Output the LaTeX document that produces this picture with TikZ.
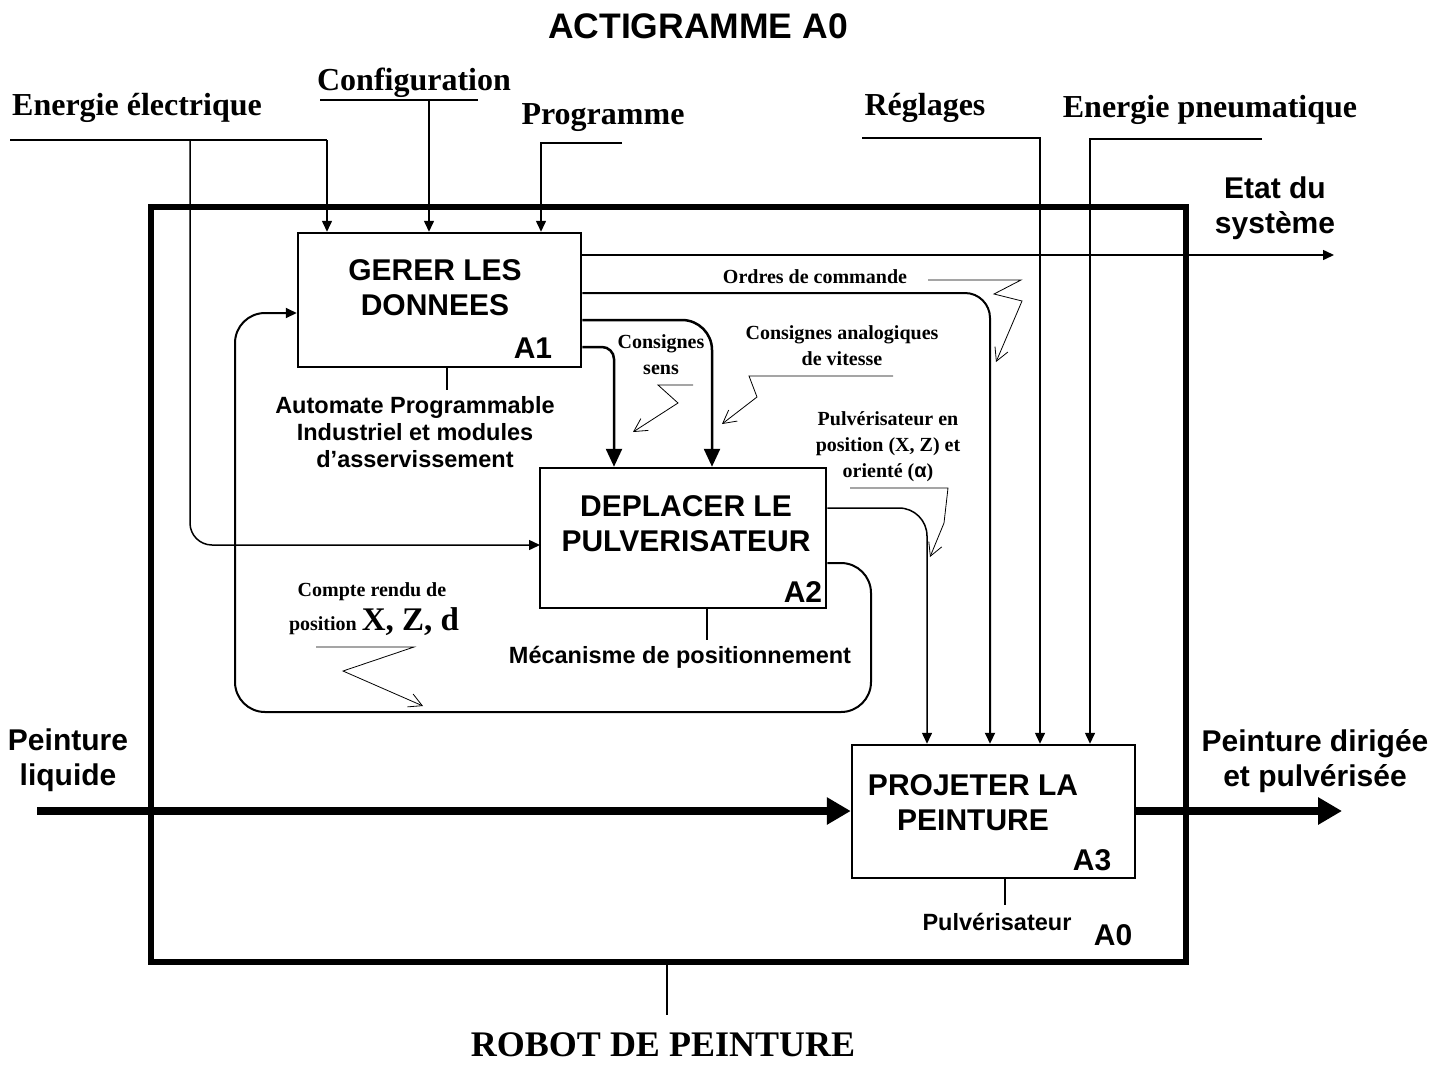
\documentclass[tikz,border=0pt]{standalone}
\usepackage{fontspec}
\setmainfont{Liberation Serif}
\newfontfamily\helv{Liberation Sans}
\usetikzlibrary{arrows.meta}

\begin{document}
\begin{tikzpicture}[x=1pt,y=-1pt]
\tikzstyle{every node}=[inner sep=0pt, align=center];
\tikzstyle{fct}=[draw, line width=2.5pt];
\tikzstyle{titre}=[font=\helv\bfseries\fontsize{30}{35}\selectfont];
\tikzstyle{meca}=[font=\helv\bfseries\fontsize{23.5}{27}\selectfont];
\tikzstyle{ext}=[font=\bfseries\fontsize{32}{38}\selectfont];
\tikzstyle{info}=[font=\bfseries\fontsize{20}{26}\selectfont];
\tikzstyle{fin}=[line width=1.5pt];
\tikzstyle{fl}=[fin, -{Triangle[length=11pt,width=10pt]}];
\tikzstyle{cmd}=[line width=2.5pt, -{Triangle[length=18pt,width=16pt]}];
\tikzstyle{gros}=[line width=8pt, -{Triangle[length=24pt,width=26pt]}];
\tikzstyle{eclair}=[line width=0.8pt, -{Straight Barb[length=13pt,width=14pt]}];

\useasboundingbox (0,0) rectangle (1445,1066);

\node[font=\helv\bfseries\fontsize{35.5}{40}\selectfont] (titre) at (698,26) {ACTIGRAMME A0};

% boite A0
\node[draw, line width=6pt, minimum width=1035pt, minimum height=755pt] (a0) at (668.5,584.5) {};
\node[titre] (n0) at (1113,935) {A0};
\coordinate (m0) at (667,1015);
\draw[fin] (m0 |- a0.south) -- (m0);
\node[font=\bfseries\fontsize{36}{42}\selectfont] (robot) at (663,1045) {ROBOT DE PEINTURE};

% fonctions
\node[fct, minimum width=283pt, minimum height=134pt] (a1) at (439.5,300) {};
\node[titre] (t1) at (435,287.5) {GERER LES\\DONNEES};
\node[titre] (n1) at (533,348) {A1};
\node[fct, minimum width=286pt, minimum height=140pt] (a2) at (683,538) {};
\node[titre] (t2) at (686,524) {DEPLACER LE\\PULVERISATEUR};
\node[titre] (n2) at (803,592) {A2};
\node[fct, minimum width=283pt, minimum height=133pt] (a3) at (993.5,811.5) {};
\node[titre] (t3) at (973,803) {PROJETER LA\\PEINTURE};
\node[titre] (n3) at (1092,860) {A3};

% supports
\coordinate (m1) at (447,390);
\draw[fin] (m1 |- a1.south) -- (m1);
\node[meca] (s1) at (415,432) {Automate Programmable\\Industriel et modules\\d’asservissement};
\coordinate (m2) at (707,640);
\draw[fin] (m2 |- a2.south) -- (m2);
\node[meca] (s2) at (680,657) {Mécanisme de positionnement};
\coordinate (m3) at (1005,905);
\draw[fin] (m3 |- a3.south) -- (m3);
\node[meca] (s3) at (997,922) {Pulvérisateur};

% entrees du haut
\node[ext] (elec) at (137,108) {Energie électrique};
\coordinate (elec0) at (10,140);
\coordinate (elec1) at (327,140);
\coordinate (elec2) at (190,140);
\coordinate (elec3) at (540,545);
\draw[fin] (elec0) -- (elec1);
\draw[fl] (elec1) -- (elec1 |- a1.north);
\draw[fl, rounded corners=22pt] (elec2) |- (elec3);

\node[ext] (conf) at (414,83) {Configuration};
\coordinate (conf0) at (320,100);
\coordinate (conf1) at (478,100);
\coordinate (conf2) at (429,100);
\draw[fin] (conf0) -- (conf1);
\draw[fl] (conf2) -- (conf2 |- a1.north);

\node[ext] (prog) at (603,118) {Programme};
\coordinate (prog0) at (622,143);
\coordinate (prog1) at (541,143);
\draw[fl] (prog0) -- (prog1) -- (prog1 |- a1.north);

\node[ext] (regl) at (925,108) {Réglages};
\coordinate (regl0) at (862,138);
\coordinate (regl1) at (1040,138);
\draw[fl] (regl0) -- (regl1) -- (regl1 |- a3.north);

\node[ext] (pneu) at (1210,110) {Energie pneumatique};
\coordinate (pneu0) at (1262,139);
\coordinate (pneu1) at (1090,139);
\draw[fl] (pneu0) -- (pneu1) -- (pneu1 |- a3.north);

% sorties de A1
\coordinate (etat) at (1334,255);
\draw[fl] (a1.east |- etat) -- (etat);
\node[titre] (etatl) at (1275,208) {Etat du\\système};

\coordinate (ord) at (990,293);
\draw[fl, line width=2pt, rounded corners=25pt] (a1.east |- ord) -| (ord |- a3.north);
\node[info] (ordl) at (815,277) {Ordres de commande};
\draw[eclair] (928,280) -- (1021,280) -- (994,294) -- (1022,301) -- (996,362);

\coordinate (cav) at (712,320);
\draw[cmd, rounded corners=30pt] (a1.east |- cav) -| (cav |- a2.north);
\node[info] (cavl) at (842,346) {Consignes analogiques\\de vitesse};
\draw[eclair] (893,376) -- (749,376) -- (757,397) -- (722,424);

\coordinate (cs) at (614,347);
\draw[cmd, rounded corners=12pt] (a1.east |- cs) -| (cs |- a2.north);
\node[info] (csl) at (661,355) {Consignes\\sens};
\draw[eclair] (693,385) -- (658,385) -- (678,403) -- (633,432);

% sorties de A2
\coordinate (pos) at (927,508);
\draw[fl, rounded corners=28pt] (a2.east |- pos) -| (pos |- a3.north);
\node[info] (posl) at (888,447) {Pulvérisateur en\\position (X, Z) et\\orienté ({\helv α})};
\draw[eclair] (850,488) -- (948,488) -- (944,523) -- (930,557);

\coordinate (cr) at (871,563);
\coordinate (cb) at (235,712);
\coordinate (ch) at (235,313);
\draw[fl, line width=2pt, rounded corners=30pt] (a2.east |- cr) -- (cr) -- (cr |- cb) -- (cb) -- (ch) -- (a1.west |- ch);
\node[info] (crl) at (372,592) {Compte rendu de};
\node[info] (crp) at (374,622) {position {\fontsize{33}{33}\selectfont X, Z, d}};
\draw[eclair] (316,647) -- (414,647) -- (343,671) -- (423,706);

% flux principal
\node[titre] (pliq) at (68,760) {Peinture\\liquide};
\coordinate (pl) at (37,811);
\draw[gros] (pl) -- (a3.west |- pl);
\node[titre] (pdir) at (1315,761) {Peinture dirigée\\et pulvérisée};
\coordinate (pd) at (1342,811);
\draw[gros] (a3.east |- pd) -- (pd);
\end{tikzpicture}
\end{document}
